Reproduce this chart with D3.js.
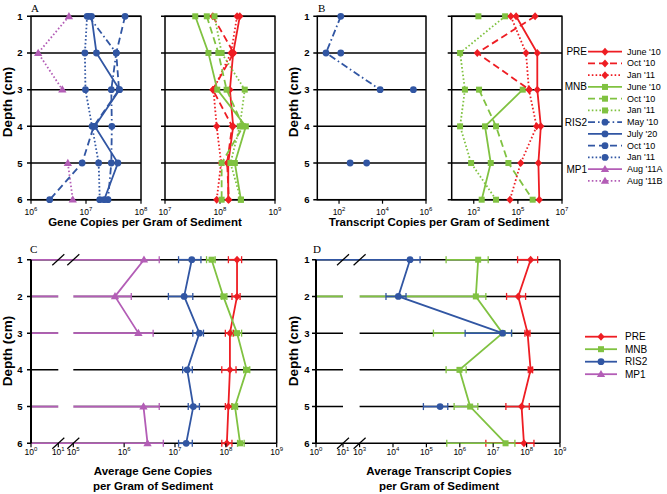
<!DOCTYPE html>
<html>
<head>
<meta charset="utf-8">
<script src="https://cdn.jsdelivr.net/npm/d3@7"></script>
<style>
body { margin: 0; background: #fff; }
text { font-family: "Liberation Sans", Arial, sans-serif; }
</style>
</head>
<body>
<div id="chart"></div>
<script>

var depths = [1, 2, 3, 4, 5, 6];

// all values are log10 copies per gram of sediment, one per depth (null = no value)

// panel A, gene copies
var aMp1B    = [6.69, 6.13, 6.57, null, 6.67, 6.76];
var aRis2May = [7.05, 7.55, 7.46, 7.47, 7.46, 7.40];
var aRis2Jul = [7.10, 7.19, 7.61, 7.16, 7.58, 7.33];
var aRis2Oct = [7.71, 7.55, 7.60, 7.14, 6.93, 6.34];
var aRis2Jan = [7.02, 6.98, 6.99, 7.11, 7.23, 7.25];
var aPreJun  = [8.36, 8.24, 8.18, 8.24, 8.15, 8.15];
var aPreOct  = [7.87, 8.25, 7.87, 8.22, 8.13, 8.16];
var aPreJan  = [8.31, 8.20, 7.88, 7.94, 8.02, 7.94];
var aMnbJun  = [7.55, 7.79, 7.95, 8.47, 8.27, 8.38];
var aMnbOct  = [7.76, 7.97, 8.12, 8.42, 8.03, 8.03];
var aMnbJan  = [7.90, 8.03, 8.45, 8.36, 8.19, 8.38];

// panel B, transcript copies
var bRis2May = [2.08, 1.40, 3.89, null, null, null];
var bRis2Jul = [null, 2.08, null, null, null, null];
var bRis2Oct = [null, null, 5.42, null, 2.51, null];
var bRis2Jan = [null, null, null, null, 3.27, null];
var bPreJun  = [4.92, 5.88, 5.88, 6.04, 5.93, 5.97];
var bPreOct  = [5.78, 3.16, 5.52, null, null, null];
var bPreJan  = [4.68, 5.37, 5.50, 5.85, 5.13, 4.64];
var bMnbJun  = [null, null, 5.22, 3.51, 3.77, 3.36];
var bMnbOct  = [3.21, null, 3.24, 4.01, 4.57, 5.67];
var bMnbJan  = [4.42, 2.38, 2.60, 2.38, 2.88, 4.01];

// panel C, average gene copies with error bar ends
var cPre     = [8.22, 8.22, 8.08, 8.08, 8.05, 8.02];
var cPreLo   = [8.05, 8.12, 7.99, 7.92, 7.99, 7.92];
var cPreHi   = [8.31, 8.28, 8.15, 8.20, 8.12, 8.12];
var cMnb     = [7.72, 7.95, 8.22, 8.41, 8.18, 8.28];
var cMnbLo   = [7.62, 7.92, 8.12, 8.35, 8.12, 8.23];
var cMnbHi   = [7.79, 8.02, 8.31, 8.47, 8.23, 8.36];
var cRis2    = [7.33, 7.18, 7.48, 7.24, 7.36, 7.22];
var cRis2Lo  = [7.07, 6.87, 7.35, 7.15, 7.26, 7.07];
var cRis2Hi  = [7.51, 7.35, 7.56, 7.34, 7.48, 7.34];
var cMp1     = [6.39, 5.82, 6.28, null, 6.38, 6.46];
var cMp1Lo   = [null, null, null, null, null, null];   // below the axis
var cMp1Hi   = [6.69, 6.14, 6.57, null, 6.69, 6.77];

// panel D, average transcript copies with error bar ends
var dPre     = [8.12, 7.75, 8.03, 8.12, 7.85, 7.92];
var dPreLo   = [7.73, 7.40, 7.95, 8.05, 7.38, 6.78];
var dPreHi   = [8.33, 7.97, 8.10, 8.18, 8.08, 8.22];
var dMnb     = [6.55, 6.48, 7.28, 5.99, 6.31, 7.37];
var dMnbLo   = [5.59, null, 5.21, 5.59, 5.83, 5.61];
var dMnbHi   = [6.85, 6.78, 7.55, 6.19, 6.54, 7.65];
var dRis2    = [4.51, 4.16, 7.28, null, 5.41, null];
var dRis2Lo  = [null, 3.79, 6.16, null, 4.91, null];
var dRis2Hi  = [4.81, 4.39, 7.55, null, 5.64, null];

var sites = ["PRE", "MNB", "RIS2", "MP1"];
var legendGroup = ["PRE", "", "", "MNB", "", "", "RIS2", "", "", "", "MP1", ""];
var legendSite  = ["PRE", "PRE", "PRE", "MNB", "MNB", "MNB", "RIS2", "RIS2", "RIS2", "RIS2", "MP1", "MP1"];
var legendMonth = ["June '10", "Oct '10", "Jan '11", "June '10", "Oct '10", "Jan '11",
                   "May '10", "July '20", "Oct '10", "Jan '11", "Aug '11A", "Aug '11B"];

var color = {PRE: "#ee1d23", MNB: "#80c241", RIS2: "#3156a3", MP1: "#b35db6"};
var shape = {PRE: "diamond", MNB: "square", RIS2: "circle", MP1: "triangle"};
var dashOf = {"June '10": null, "Oct '10": "7,4", "Jan '11": "1.6,2.2", "May '10": "7,3,1.6,3",
              "July '20": null, "Aug '11A": null, "Aug '11B": "1.6,2.2"};

var svg = d3.select("#chart").append("svg")
  .attr("width", 667)
  .attr("height", 494);

var yTop = d3.scaleLinear().domain([1, 6]).range([16.3, 199.7]);
var yBot = d3.scaleLinear().domain([1, 6]).range([259.7, 443.3]);


function marker(g, type, cx, cy, col) {
  if (type == "circle") {
    g.append("circle").attr("cx", cx).attr("cy", cy).attr("r", 3.4).attr("fill", col);
  } else if (type == "square") {
    g.append("rect").attr("x", cx - 3).attr("y", cy - 3).attr("width", 6).attr("height", 6).attr("fill", col);
  } else if (type == "diamond") {
    g.append("path").attr("d", "M0,-4L3.6,0L0,4L-3.6,0Z")
      .attr("transform", `translate(${cx},${cy})`).attr("fill", col);
  } else {
    g.append("path").attr("d", d3.symbol().type(d3.symbolTriangle).size(30)())
      .attr("transform", `translate(${cx},${cy + 0.5})`).attr("fill", col);
  }
}

function tenLabel(g, x, y, e) {
  var t = g.append("text").attr("x", x).attr("y", y)
    .attr("text-anchor", "middle").style("font-size", "8.5px");
  t.append("tspan").text("10");
  t.append("tspan").attr("dy", -3.8).style("font-size", "6px").text(e);
}

function depthLabels(xText, y) {
  depths.forEach(function(d) {
    svg.append("text").attr("x", xText).attr("y", y(d) + 3.5)
      .attr("text-anchor", "middle").style("font-size", "9.5px").style("font-weight", "bold")
      .text(d);
  });
}

function depthTitle(x, yc) {
  svg.append("text").attr("transform", `translate(${x},${yc}) rotate(-90)`)
    .attr("text-anchor", "middle").style("font-size", "13.5px").style("font-weight", "bold")
    .text("Depth (cm)");
}

function drawSeries(g, x, y, col, shp, dash, vals) {
  var pts = depths.map(function(d, i) { return {d: d, v: vals[i]}; });
  var line = d3.line()
    .defined(p => p.v != null)
    .x(p => x(p.v))
    .y(p => y(p.d));
  g.append("path").attr("d", line(pts))
    .attr("fill", "none").attr("stroke", col).attr("stroke-width", 1.8)
    .attr("stroke-dasharray", dash);
  pts.filter(p => p.v != null).forEach(p => marker(g, shp, x(p.v), y(p.d), col));
}

// top panels (A and B): one plain log axis per box
function topBox(x0, x1, lo, hi, labels, series) {
  var x = d3.scaleLinear().domain([lo, hi]).range([x0, x1]);
  var g = svg.append("g");
  depths.forEach(function(d) {
    g.append("line").attr("x1", x0 - 4).attr("x2", x1).attr("y1", yTop(d)).attr("y2", yTop(d))
      .attr("stroke", "#000").attr("stroke-width", 1.5);
  });
  g.append("rect").attr("x", x0).attr("y", yTop(1)).attr("width", x1 - x0).attr("height", yTop(6) - yTop(1))
    .attr("fill", "none").attr("stroke", "#000").attr("stroke-width", 1.5);
  labels.forEach(function(e) {
    g.append("line").attr("x1", x(e)).attr("x2", x(e)).attr("y1", yTop(6)).attr("y2", yTop(6) + 4)
      .attr("stroke", "#000").attr("stroke-width", 1.2);
    tenLabel(g, x(e), 215, e);
  });
  series.forEach(function(s) {
    drawSeries(g, x, yTop, color[s.site], shape[s.site], dashOf[s.month], s.vals);
  });
}

// bottom panels (C and D): broken log axis, means with error bars
function bottomBox(x, x0, x1, gapL, gapR, labels, series) {
  var g = svg.append("g");
  depths.forEach(function(d) {
    g.append("line").attr("x1", x0 - 4).attr("x2", x1).attr("y1", yBot(d)).attr("y2", yBot(d))
      .attr("stroke", "#000").attr("stroke-width", 1.5);
  });
  series.forEach(function(s) {
    var col = color[s.site];
    depths.forEach(function(d, i) {
      if (s.mean[i] == null) return;
      var xa = s.lo[i] == null ? x0 : x(s.lo[i]);
      var xb = x(s.hi[i]);
      var yy = yBot(d);
      g.append("line").attr("x1", xa).attr("x2", xb).attr("y1", yy).attr("y2", yy)
        .attr("stroke", col).attr("stroke-width", 1.6);
      [s.lo[i] == null ? null : xa, xb].forEach(function(xc) {
        if (xc == null) return;
        g.append("line").attr("x1", xc).attr("x2", xc).attr("y1", yy - 3.5).attr("y2", yy + 3.5)
          .attr("stroke", col).attr("stroke-width", 1.3);
      });
    });
  });
  // gap of the broken axis on the inner rows
  g.append("rect").attr("x", gapL).attr("y", yBot(1) + 2).attr("width", gapR - gapL)
    .attr("height", yBot(6) - yBot(1) - 4).attr("fill", "#fff");
  [1, 6].forEach(function(d) {
    [gapL, gapR].forEach(function(gx) {
      g.append("line").attr("x1", gx - 6).attr("x2", gx + 6)
        .attr("y1", yBot(d) + 5.5).attr("y2", yBot(d) - 5.5)
        .attr("stroke", "#000").attr("stroke-width", 1.2);
    });
  });
  series.forEach(function(s) {
    drawSeries(g, x, yBot, color[s.site], shape[s.site], null, s.mean);
  });
  g.append("line").attr("x1", x0).attr("x2", x0).attr("y1", yBot(1)).attr("y2", yBot(6))
    .attr("stroke", "#000").attr("stroke-width", 2);
  g.append("line").attr("x1", x1).attr("x2", x1).attr("y1", yBot(1)).attr("y2", yBot(6))
    .attr("stroke", "#000").attr("stroke-width", 1.5);
  labels.forEach(function(e) {
    g.append("line").attr("x1", x(e)).attr("x2", x(e)).attr("y1", yBot(6)).attr("y2", yBot(6) + 4)
      .attr("stroke", "#000").attr("stroke-width", 1.2);
    tenLabel(g, x(e), 455, e);
  });
}

// ---- panel A
topBox(31, 141, 6, 8, [6, 7, 8], [
  {site: "MP1", month: "Aug '11B", vals: aMp1B},
  {site: "RIS2", month: "May '10", vals: aRis2May},
  {site: "RIS2", month: "Oct '10", vals: aRis2Oct},
  {site: "RIS2", month: "Jan '11", vals: aRis2Jan},
  {site: "RIS2", month: "July '20", vals: aRis2Jul}
]);
topBox(165, 275, 7, 9, [7, 8, 9], [
  {site: "PRE", month: "Oct '10", vals: aPreOct},
  {site: "PRE", month: "Jan '11", vals: aPreJan},
  {site: "PRE", month: "June '10", vals: aPreJun},
  {site: "MNB", month: "Oct '10", vals: aMnbOct},
  {site: "MNB", month: "Jan '11", vals: aMnbJan},
  {site: "MNB", month: "June '10", vals: aMnbJun}
]);

// ---- panel B
topBox(317.3, 426, 1, 6, [2, 4, 6], [
  {site: "RIS2", month: "May '10", vals: bRis2May},
  {site: "RIS2", month: "July '20", vals: bRis2Jul},
  {site: "RIS2", month: "Oct '10", vals: bRis2Oct},
  {site: "RIS2", month: "Jan '11", vals: bRis2Jan}
]);
topBox(451.7, 562, 2, 7, [3, 5, 7], [
  {site: "MNB", month: "Oct '10", vals: bMnbOct},
  {site: "MNB", month: "Jan '11", vals: bMnbJan},
  {site: "MNB", month: "June '10", vals: bMnbJun},
  {site: "PRE", month: "Oct '10", vals: bPreOct},
  {site: "PRE", month: "Jan '11", vals: bPreJan},
  {site: "PRE", month: "June '10", vals: bPreJun}
]);

// ---- panel C
var xC = d3.scaleLinear().domain([0, 1, 5, 9]).range([31, 58.3, 73.3, 276.7]);
bottomBox(xC, 31, 276.7, xC(1), xC(5), [0, 1, 5, 6, 7, 8, 9], [
  {site: "PRE", mean: cPre, lo: cPreLo, hi: cPreHi},
  {site: "MNB", mean: cMnb, lo: cMnbLo, hi: cMnbHi},
  {site: "RIS2", mean: cRis2, lo: cRis2Lo, hi: cRis2Hi},
  {site: "MP1", mean: cMp1, lo: cMp1Lo, hi: cMp1Hi}
]);

// ---- panel D
var xD = d3.scaleLinear().domain([0, 1, 3, 9]).range([316, 343, 359.6, 560]);
bottomBox(xD, 316, 560, xD(1), xD(3), [0, 1, 3, 4, 5, 6, 7, 8, 9], [
  {site: "PRE", mean: dPre, lo: dPreLo, hi: dPreHi},
  {site: "MNB", mean: dMnb, lo: dMnbLo, hi: dMnbHi},
  {site: "RIS2", mean: dRis2, lo: dRis2Lo, hi: dRis2Hi}
]);

// labels
depthLabels(20, yTop);
depthLabels(307, yTop);
depthLabels(20, yBot);
depthLabels(307, yBot);
depthTitle(12, 102);
depthTitle(298, 102);
depthTitle(12, 351);
depthTitle(298, 351);

[["A", 31, 12], ["B", 318, 12], ["C", 30, 253], ["D", 313, 253]].forEach(function(p) {
  svg.append("text").attr("x", p[1]).attr("y", p[2])
    .style("font-family", "'Liberation Serif', 'Times New Roman', serif").style("font-size", "11px")
    .text(p[0]);
});

function title(lines, xc, y0) {
  lines.forEach(function(t, i) {
    svg.append("text").attr("x", xc).attr("y", y0 + i * 15)
      .attr("text-anchor", "middle").style("font-size", "11.5px").style("font-weight", "bold")
      .text(t);
  });
}
title(["Gene Copies per Gram of Sediment"], 145, 226);
title(["Transcript Copies per Gram of Sediment"], 439, 226);
title(["Average Gene Copies", "per Gram of Sediment"], 153, 475);
title(["Average Transcript Copies", "per Gram of Sediment"], 439, 475);

// legend for A and B
var leg = svg.append("g");
legendMonth.forEach(function(m, i) {
  var yy = 51.7 + i * 11.75;
  var s = legendSite[i];
  if (legendGroup[i]) {
    leg.append("text").attr("x", 587).attr("y", yy + 3.5).attr("text-anchor", "end")
      .style("font-size", "10px").text(legendGroup[i]);
  }
  leg.append("line").attr("x1", 588).attr("x2", 622).attr("y1", yy).attr("y2", yy)
    .attr("stroke", color[s]).attr("stroke-width", 1.8).attr("stroke-dasharray", dashOf[m]);
  marker(leg, shape[s], 605, yy, color[s]);
  leg.append("text").attr("x", 627).attr("y", yy + 3).style("font-size", "9px").text(m);
});

// legend for C and D
sites.forEach(function(s, i) {
  var yy = 336.7 + i * 12.5;
  leg.append("line").attr("x1", 585).attr("x2", 617).attr("y1", yy).attr("y2", yy)
    .attr("stroke", color[s]).attr("stroke-width", 1.8);
  marker(leg, shape[s], 601, yy, color[s]);
  leg.append("text").attr("x", 625).attr("y", yy + 3.5).style("font-size", "10px").text(s);
});

</script>
</body>
</html>
